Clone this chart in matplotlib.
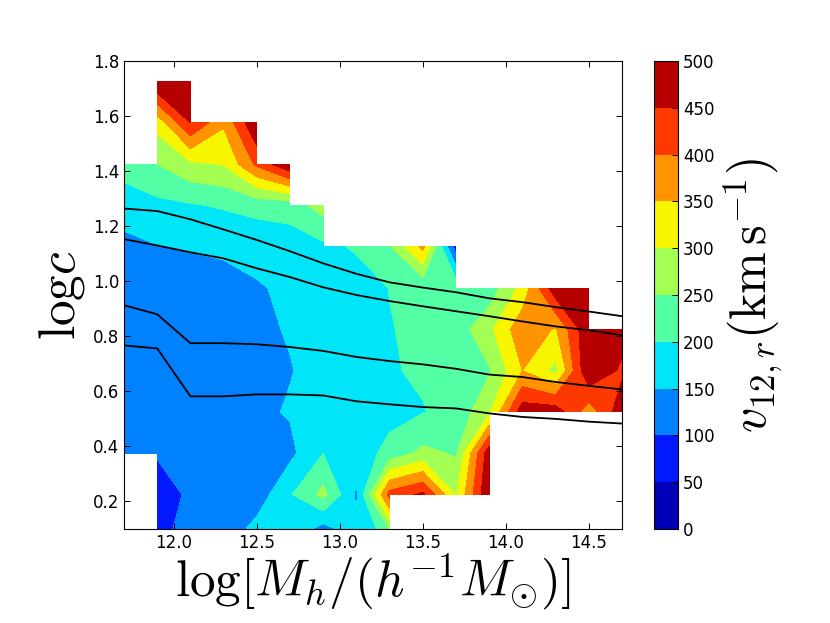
import matplotlib
matplotlib.use('Agg')
import matplotlib.pyplot as plt
import numpy as np

plt.rcParams['mathtext.fontset'] = 'cm'
plt.rcParams['font.family'] = 'DejaVu Sans'

n = np.nan

# bin centres
log_mh = [11.7, 11.9, 12.1, 12.3, 12.5, 12.7, 12.9, 13.1, 13.3, 13.5, 13.7, 13.9, 14.1, 14.3, 14.5, 14.7]
log_c = [0.075, 0.225, 0.375, 0.525, 0.675, 0.825, 0.975, 1.125, 1.275, 1.425, 1.575, 1.725]

# velocity dispersion per row of log c
v_0075 = [n, 75, 135, 125, 175, 165, 102, 158, 220, n, n, n, n, n, n, n]
v_0225 = [n, 55, 115, 130, 122, 195, 264, 143, 420, 460, 295, 499, n, n, n, n]
v_0375 = [122, 108, 125, 130, 135, 137, 200, 165, 220, 262, 245, 482, n, n, n, n]
v_0525 = [130, 125, 128, 135, 140, 154, 158, 172, 180, 198, 216, 290, 480, 480, 369, 484]
v_0675 = [132, 125, 128, 133, 135, 148, 165, 180, 197, 205, 220, 245, 350, 285, 499, 440]
v_0825 = [132, 128, 128, 133, 142, 153, 165, 180, 198, 210, 224, 287, 385, 345, 495, 472]
v_0975 = [130, 130, 130, 135, 145, 160, 165, 178, 201, 212, 238, 222, 315, 485, 499, n]
v_1125 = [139, 148, 153, 157, 168, 175, 189, 205, 243, 363, 75, n, n, n, n, n]
v_1275 = [168, 187, 195, 205, 215, 221, 272, n, n, n, n, n, n, n, n, n]
v_1425 = [225, 250, 290, 302, 410, 498, n, n, n, n, n, n, n, n, n, n]
v_1575 = [n, 318, 450, 357, 499, n, n, n, n, n, n, n, n, n, n, n]
v_1725 = [n, 499, 499, n, n, n, n, n, n, n, n, n, n, n, n, n]

# the four black lines
line_a = [1.264, 1.255, 1.225, 1.188, 1.15, 1.109, 1.065, 1.027, 0.996, 0.977, 0.96, 0.938, 0.924, 0.906, 0.89, 0.873]
line_b = [1.153, 1.13, 1.105, 1.083, 1.047, 1.015, 0.978, 0.95, 0.928, 0.909, 0.891, 0.873, 0.854, 0.836, 0.822, 0.804]
line_c = [0.913, 0.88, 0.775, 0.775, 0.771, 0.761, 0.747, 0.725, 0.71, 0.698, 0.682, 0.661, 0.652, 0.634, 0.62, 0.607]
line_d = [0.767, 0.756, 0.582, 0.582, 0.589, 0.589, 0.585, 0.564, 0.553, 0.543, 0.538, 0.52, 0.507, 0.5, 0.49, 0.483]

levels = np.arange(0, 501, 50)

grid = np.ma.masked_invalid(np.array([v_0075, v_0225, v_0375, v_0525, v_0675, v_0825,
                                      v_0975, v_1125, v_1275, v_1425, v_1575, v_1725]))

fig = plt.figure(figsize=(8.3, 6.23), dpi=100)
ax = fig.add_axes([124 / 830, 1 - 529 / 623, 498 / 830, 468 / 623])
cax = fig.add_axes([654 / 830, 1 - 529 / 623, 24 / 830, 468 / 623])

cs = ax.contourf(log_mh, log_c, grid, levels=levels, cmap='jet', corner_mask=False)
for line in (line_a, line_b, line_c, line_d):
    ax.plot(log_mh, line, color='k', lw=1.3)

ax.set_xlim(11.7, 14.7)
ax.set_ylim(0.1, 1.8)
ax.set_xticks([12.0, 12.5, 13.0, 13.5, 14.0, 14.5])
ax.set_yticks([0.2, 0.4, 0.6, 0.8, 1.0, 1.2, 1.4, 1.6, 1.8])
ax.tick_params(direction='in', top=True, right=True, length=4, width=0.7, labelsize=12)
ax.set_xlabel(r'$\log[M_h/(h^{-1}M_{\odot})]$', fontsize=37, labelpad=0)
ax.set_ylabel(r'${\rm log}c$', fontsize=37, labelpad=4)

cb = fig.colorbar(cs, cax=cax)
cb.set_ticks(levels)
cb.ax.tick_params(direction='in', length=4, width=0.7, labelsize=12)
cb.set_label(r'$v_{12,r}({\rm km\,s^{-1}})$', fontsize=36, labelpad=5)

fig.savefig('out.png', dpi=100)
